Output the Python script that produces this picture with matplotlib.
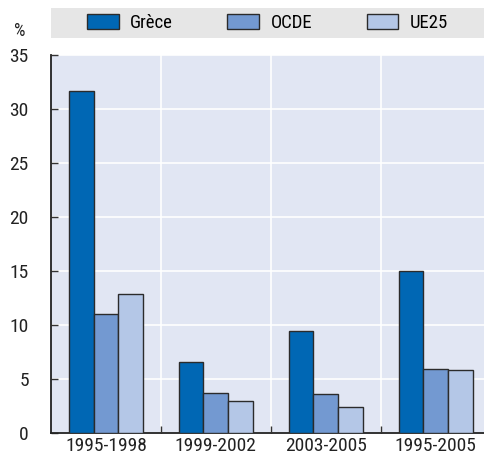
import matplotlib
matplotlib.use("Agg")
import matplotlib.pyplot as plt
from matplotlib.patches import Patch
from matplotlib import font_manager
import numpy as np

categories = ["1995-1998", "1999-2002", "2003-2005", "1995-2005"]
series_names = ["Grèce", "OCDE", "UE25"]
grece = [31.7, 6.6, 9.4, 15.0]
ocde = [11.0, 3.7, 3.6, 5.9]
ue25 = [12.9, 3.0, 2.4, 5.8]
yticks = [0, 5, 10, 15, 20, 25, 30, 35]

colors = ["#0067B4", "#7399D1", "#B4C7E7"]
edge = "#2b2b2b"

avail = {f.name for f in font_manager.fontManager.ttflist}
fams = [f for f in ['Liberation Sans Narrow', 'Roboto Condensed', 'DejaVu Sans Condensed', 'Roboto'] if f in avail]
plt.rcParams['font.family'] = fams + ['DejaVu Sans']

fig = plt.figure(figsize=(4.84, 4.58), dpi=100)
ax = fig.add_axes([51/484, 1-433/458, 1-51/484, (433-55)/458])
ax.set_facecolor("#E1E6F3")

x = np.arange(len(categories))
w = 0.225
for i, (vals, c) in enumerate(zip([grece, ocde, ue25], colors)):
    ax.bar(x + (i-1)*w, vals, width=w, color=c, edgecolor=edge, linewidth=1.0, zorder=3)

ax.set_xlim(-0.5, 3.44)
ax.set_ylim(0, 35)
ax.set_yticks(yticks)
ax.set_yticklabels([str(t) for t in yticks], fontsize=14, color="#222")
ax.yaxis.grid(True, color="white", linewidth=1.2, zorder=0)
for d in [0.5, 1.5, 2.5]:
    ax.axvline(d, color="white", linewidth=1.2, zorder=0)
ax.set_xticks([0.5, 1.5, 2.5], minor=False)
ax.set_xticklabels([])
ax.set_xticks(x, minor=True)
ax.set_xticklabels(categories, minor=True, fontsize=14, color="#222")
ax.tick_params(axis='x', which='minor', length=0, pad=3)
ax.tick_params(axis='x', which='major', direction='in', length=5, width=1, color="#333")
ax.tick_params(axis='y', direction='in', length=5, width=1, color="#333", pad=16)
for s in ['top', 'right']:
    ax.spines[s].set_visible(False)
for s in ['left', 'bottom']:
    ax.spines[s].set_color("#222")
    ax.spines[s].set_linewidth(1.3)
ax.set_axisbelow(True)

fig.text(20/484, 1-31/458, "%", fontsize=13, color="#222", ha='center', va='center')

lax = fig.add_axes([51/484, 1-38/458, 1-51/484, 30/458])
lax.set_facecolor("#E6E6E6")
lax.set_xticks([]); lax.set_yticks([])
for s in lax.spines.values():
    s.set_visible(False)
handles = [Patch(facecolor=c, edgecolor=edge, linewidth=1.0, label=n) for c, n in zip(colors, series_names)]
lax.legend(handles=handles, loc='center', ncol=3, frameon=False, fontsize=13.5,
           handlelength=1.7, handleheight=0.8, columnspacing=2.9, handletextpad=0.6,
           bbox_to_anchor=(0.5, 0.5))

fig.savefig("out.png", dpi=100)
